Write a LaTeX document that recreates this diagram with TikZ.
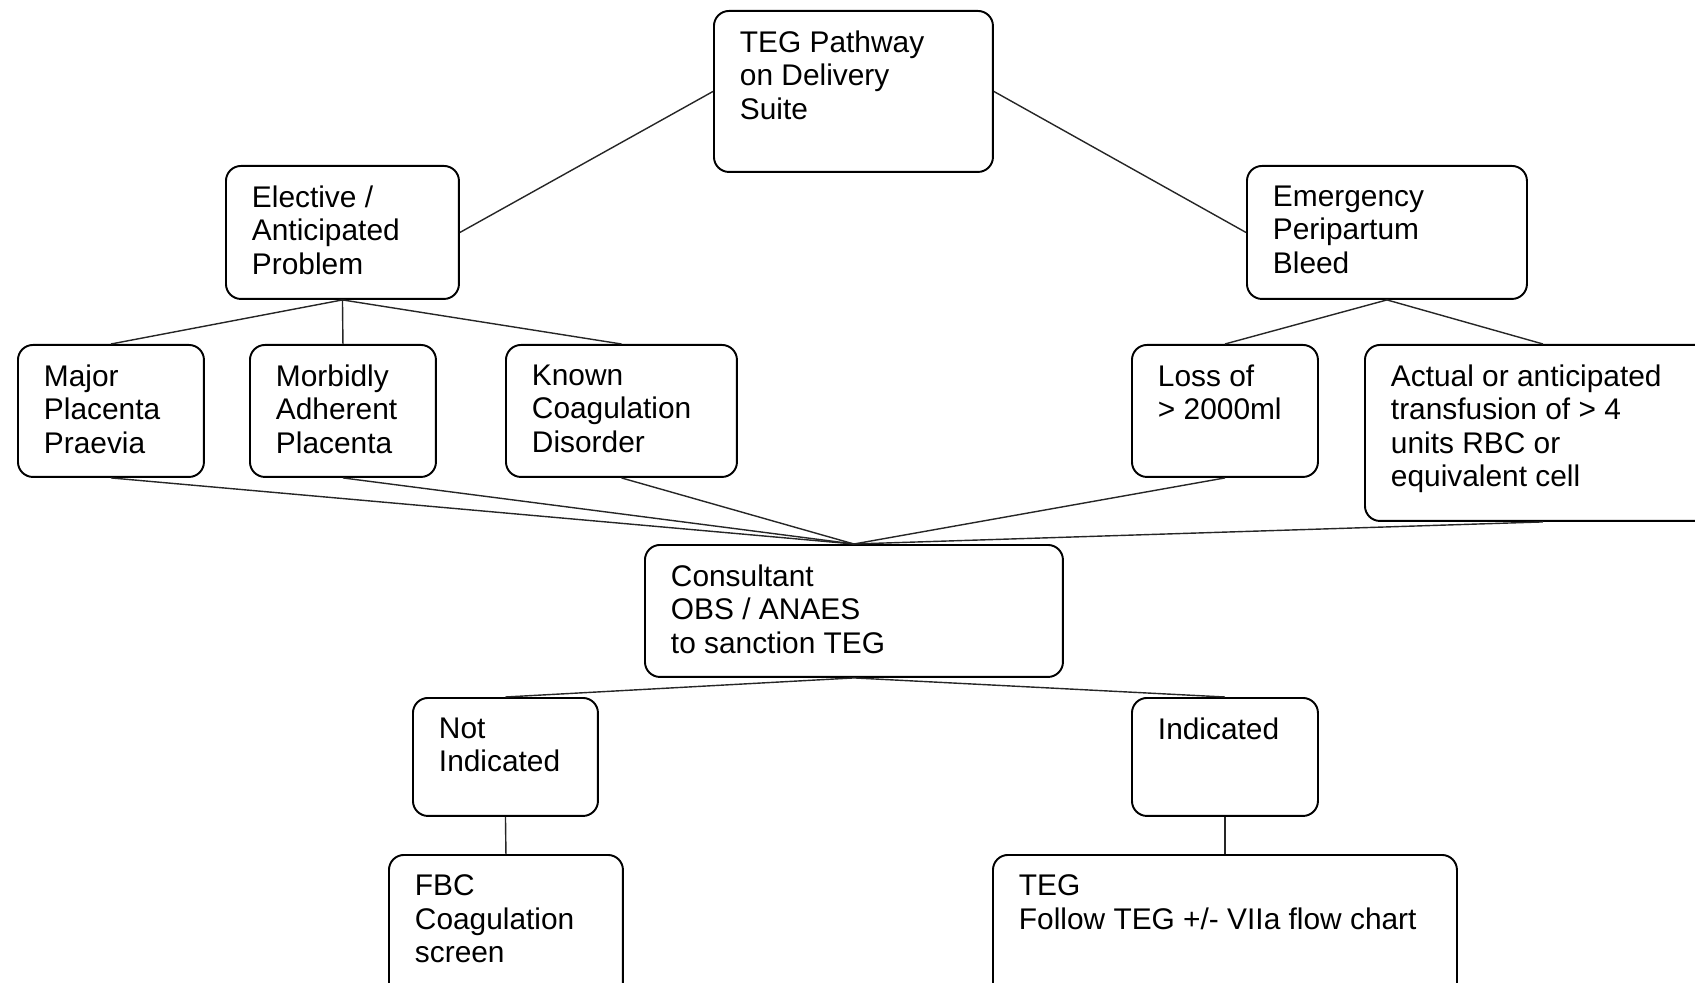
\documentclass[tikz,border=0pt]{standalone}
\usepackage{fontspec}
\setmainfont{Liberation Sans}

\newlength\px
\setlength\px{0.02cm}
% box text: width, height (in px), lines
\newcommand{\boxtext}[3]{\parbox[t][\dimexpr#2\px-40\px\relax][t]{\dimexpr#1\px-52\px\relax}{\raggedright#3}}

\begin{document}
\begin{tikzpicture}[x=0.02cm, y=-0.02cm,
    every node/.style={font=\fontsize{17}{19}\selectfont},
    box/.style={draw=black, line width=1.1pt, rounded corners=0.3cm, inner xsep=0.52cm, inner ysep=0.4cm, anchor=north west},
    link/.style={line width=0.8pt, black!85}]
    \clip (0,0) rectangle (1695,983);

    % Top
    \node[box] (teg) at (713,10) {\boxtext{279}{161}{TEG Pathway\\on Delivery\\Suite}};

    % Two branches
    \node[box] (elect) at (225,165) {\boxtext{233}{133}{Elective /\\Anticipated\\Problem}};
    \node[box] (emerg) at (1246,165) {\boxtext{280}{133}{Emergency\\Peripartum\\Bleed}};

    % Indications
    \node[box] (major) at (17,344) {\boxtext{186}{132}{Major\\Placenta\\Praevia}};
    \node[box] (morbid) at (249,344) {\boxtext{186}{132}{Morbidly\\Adherent\\Placenta}};
    \node[box] (known) at (505,344) {\boxtext{231}{132}{Known\\Coagulation\\Disorder}};
    \node[box] (loss) at (1131,344) {\boxtext{186}{132}{Loss of\\> 2000ml}};
    \node[box] (actual) at (1364,344) {\boxtext{356}{176}{Actual or anticipated\\transfusion of > 4\\units RBC or\\equivalent cell}};

    % Consultant
    \node[box] (cons) at (644,544) {\boxtext{418}{132}{Consultant\\OBS / ANAES\\to sanction TEG}};

    % Decision
    \node[box] (noti) at (412,697) {\boxtext{185}{118}{Not\\Indicated}};
    \node[box] (indi) at (1131,697) {\boxtext{186}{118}{Indicated}};

    % Tests
    \node[box] (fbc) at (388,854) {\boxtext{234}{150}{FBC\\Coagulation\\screen}};
    \node[box] (follow) at (992,854) {\boxtext{464}{150}{TEG\\Follow TEG +/- VIIa flow chart}};

    % Connectors
    \draw[link] (teg.west) -- (elect.east);
    \draw[link] (teg.east) -- (emerg.west);
    \foreach \n in {major, morbid, known}
        \draw[link] (elect.south) -- (\n.north);
    \foreach \n in {loss, actual}
        \draw[link] (emerg.south) -- (\n.north);
    \foreach \n in {major, morbid, known, loss, actual}
        \draw[link] (\n.south) -- (cons.north);
    \draw[link] (cons.south) -- (noti.north);
    \draw[link] (cons.south) -- (indi.north);
    \draw[link] (noti.south) -- (fbc.north);
    \draw[link] (indi.south) -- (follow.north);
\end{tikzpicture}
\end{document}
